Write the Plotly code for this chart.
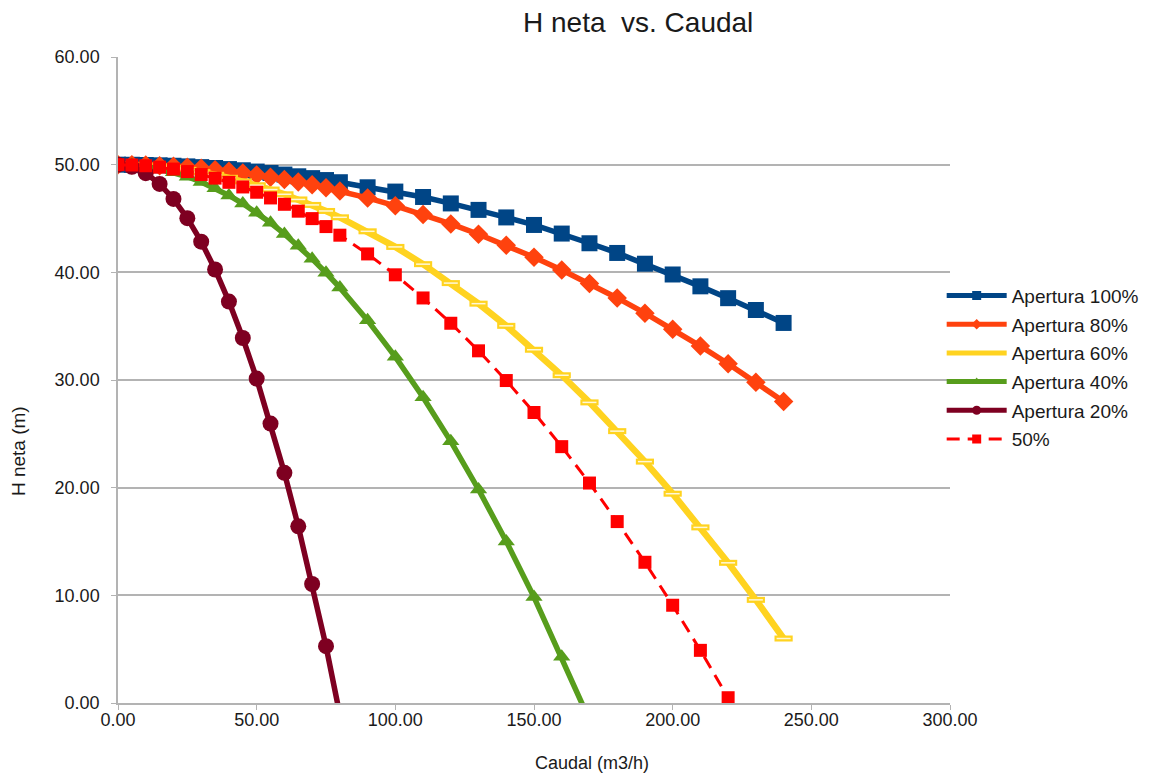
import plotly.graph_objects as go

# Caudal (m3/h)
caudal = [0, 5, 10, 15, 20, 25, 30, 35, 40, 45, 50, 55, 60, 65, 70, 75, 80,
          90, 100, 110, 120, 130, 140, 150, 160, 170, 180, 190, 200, 210, 220, 230, 240]

# H neta (m) per apertura
h_100 = [50.0, 49.99, 49.97, 49.94, 49.9, 49.84, 49.77, 49.69, 49.59, 49.48, 49.36,
         49.23, 49.08, 48.92, 48.75, 48.57, 48.37,
         47.9, 47.5, 47.0, 46.4, 45.8, 45.1, 44.4, 43.6, 42.7, 41.8, 40.8, 39.8,
         38.7, 37.6, 36.5, 35.3]
h_80 = [50.0, 49.99, 49.96, 49.91, 49.85, 49.76, 49.66, 49.53, 49.39, 49.23, 49.05,
        48.84, 48.62, 48.39, 48.13, 47.85, 47.56,
        46.91, 46.18, 45.38, 44.5, 43.54, 42.51, 41.41, 40.22, 38.96, 37.62, 36.21,
        34.72, 33.15, 31.51, 29.79, 28.0]
h_60 = [50.0, 49.98, 49.92, 49.83, 49.69, 49.52, 49.31, 49.06, 48.78, 48.45, 48.09,
        47.69, 47.25, 46.77, 46.26, 45.7, 45.11,
        43.81, 42.36, 40.76, 39.0, 37.09, 35.03, 32.81, 30.44, 27.92, 25.25, 22.42,
        19.44, 16.31, 13.02, 9.58, 5.99]
h_40 = [50.0, 49.96, 49.82, 49.6, 49.29, 48.88, 48.39, 47.81, 47.14, 46.39, 45.54,
        44.6, 43.57, 42.46, 41.25, 39.96, 38.58,
        35.54, 32.15, 28.4, 24.3, 19.83, 15.01, 9.84, 4.3, -1.59]
h_20 = [50.0, 49.8, 49.21, 48.21, 46.82, 45.03, 42.85, 40.26, 37.28, 33.9, 30.13,
        25.95, 21.38, 16.41, 11.05, 5.28, -1.1]
h_50 = [50.0, 49.97, 49.9, 49.77, 49.59, 49.36, 49.08, 48.75, 48.36, 47.93, 47.44,
        46.91, 46.32, 45.68, 44.99, 44.25, 43.45,
        41.71, 39.77, 37.62, 35.27, 32.71, 29.95, 26.98, 23.81, 20.43, 16.85, 13.07,
        9.08, 4.89, 0.49]

y_ticks = [0, 10, 20, 30, 40, 50, 60]
x_ticks = [0, 50, 100, 150, 200, 250, 300]

FONT = "Liberation Sans, Arial, sans-serif"
TXT = "#1a1a1a"

# name, values, colour, line width, dash, symbol, size, legend marker size
series = [
    ("Apertura 100%", h_100, "#004586", 5.5, "solid", "square", 16, 9),
    ("Apertura 80%", h_80, "#FF420E", 5.5, "solid", "diamond", 15, 8),
    ("Apertura 60%", h_60, "#FFD320", 6.5, "solid", "line-ew", 13, 0),
    ("Apertura 40%", h_40, "#579D1C", 5.5, "solid", "triangle-up", 15, 8),
    ("Apertura 20%", h_20, "#7E0021", 5.5, "solid", "circle", 16, 9),
    ("50%", h_50, "#FF0000", 3, "13px,8px", "square", 13, 9),
]

fig = go.Figure()

for i, (nombre, vals, color, lw, dash, sym, size, lsize) in enumerate(series):
    marker = dict(symbol=sym, size=size, color=color)
    if sym == "line-ew":
        marker["line"] = dict(color=color, width=6)
    fig.add_trace(go.Scatter(
        x=caudal[:len(vals)], y=vals, name=nombre, legendgroup=f"g{i}",
        showlegend=False, mode="lines+markers",
        line=dict(color=color, width=lw, dash=dash),
        marker=marker,
    ))
    if sym == "line-ew":
        # hollow centre of the yellow dash markers
        fig.add_trace(go.Scatter(
            x=caudal[:len(vals)], y=vals, legendgroup=f"g{i}", showlegend=False,
            mode="markers", hoverinfo="skip",
            marker=dict(symbol="line-ew", size=10, color="#fff8d8",
                        line=dict(color="#fff8d8", width=1.5)),
        ))
    # legend-only entry with smaller marker, like the original
    fig.add_trace(go.Scatter(
        x=[None], y=[None], name=nombre, legendgroup=f"g{i}",
        mode="lines+markers" if lsize else "lines",
        line=dict(color=color, width=min(lw, 5), dash=dash),
        marker=dict(symbol=sym, size=lsize, color=color),
    ))

fig.add_annotation(
    xref="paper", yref="paper", x=0.625, y=1.0, yshift=35,
    text="H neta  vs. Caudal", showarrow=False,
    xanchor="center", yanchor="middle",
    font=dict(family=FONT, size=28, color=TXT),
)
fig.add_annotation(
    xref="paper", yref="paper", x=0.57, y=0, yshift=-60,
    text="Caudal (m3/h)", showarrow=False,
    xanchor="center", yanchor="middle",
    font=dict(family=FONT, size=18, color=TXT),
)
fig.add_annotation(
    xref="paper", yref="paper", x=0, xshift=-100, y=0.39,
    text="H neta (m)", showarrow=False, textangle=-90,
    xanchor="center", yanchor="middle",
    font=dict(family=FONT, size=19, color=TXT),
)

fig.update_layout(
    width=1135,
    height=765,
    paper_bgcolor="white",
    plot_bgcolor="white",
    margin=dict(l=110, r=193, t=49, b=70, autoexpand=False),
    font=dict(family=FONT, size=18, color=TXT),
    showlegend=True,
    legend=dict(
        x=0.99, xanchor="left",
        y=0.66, yanchor="top",
        font=dict(family=FONT, size=19, color=TXT),
        bgcolor="rgba(0,0,0,0)",
        itemwidth=60,
        tracegroupgap=1,
    ),
    xaxis=dict(
        range=[0, 300],
        tickvals=x_ticks,
        tickformat=".2f",
        showgrid=False,
        zeroline=False,
        showline=True,
        linecolor="#b3b3b3",
        linewidth=1.5,
        ticks="outside",
        ticklen=5,
        tickcolor="#b3b3b3",
        ticklabelstandoff=-5,
        tickfont=dict(family=FONT, size=18, color=TXT),
    ),
    yaxis=dict(
        range=[0, 60],
        tickvals=y_ticks,
        tickformat=".2f",
        showgrid=True,
        gridcolor="#b3b3b3",
        gridwidth=1.5,
        zeroline=False,
        showline=True,
        linecolor="#b3b3b3",
        linewidth=1.5,
        ticks="outside",
        ticklen=5,
        tickcolor="#b3b3b3",
        ticklabelstandoff=8,
        tickfont=dict(family=FONT, size=18, color=TXT),
    ),
)

fig.write_html("out.html")
